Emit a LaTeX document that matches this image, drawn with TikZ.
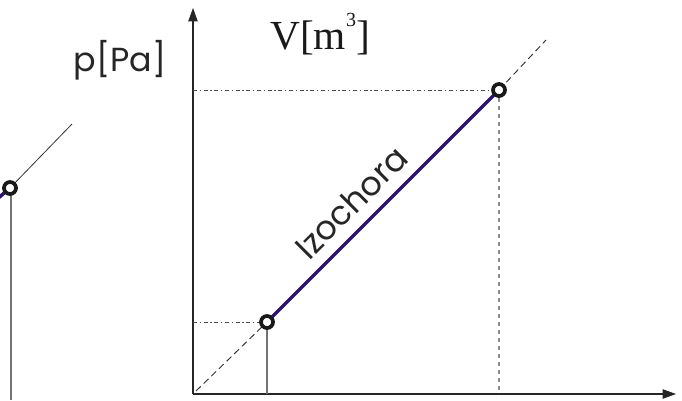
\documentclass[tikz,border=0pt]{standalone}
\usepackage{fontspec}
\setmainfont{Liberation Serif}
\newfontfamily\gothic{Poppins}
\usetikzlibrary{arrows.meta, positioning, calc}
\definecolor{izocol}{HTML}{2E1470}
\tikzset{
  % --- Osie i linie -----------------------------------------
  ax/.style={-{Triangle[length=10pt, width=7pt]}, line width=0.8pt, black!85},
  dotl/.style={line width=0.7pt, black!70, dash pattern=on 3pt off 2pt on 1pt off 2pt},
  dotv/.style={line width=1pt, black!45, dash pattern=on 3pt off 3pt},
  dashl/.style={line width=0.7pt, black!80, dash pattern=on 5pt off 3pt},
  thinl/.style={line width=0.6pt, black!80},
  greyl/.style={line width=0.8pt, black!55},
  izo/.style={line width=2.6pt, izocol},
  % --- Punkty i napisy --------------------------------------
  pt/.style={draw=black!90, circle, line width=2.8pt, fill=white,
    minimum size=9pt, inner sep=0pt},
  gtxt/.style={font=\gothic\fontsize{25}{25}\selectfont, black!85},
  stxt/.style={font=\fontsize{31}{31}\selectfont, black!90}
}
\begin{document}
\begin{tikzpicture}[x=0.75pt, y=-0.75pt]
  \useasboundingbox (0,0) rectangle (682,400);

  % --- Lewy wykres (ucięty) -----------------------------------------
  \node[gtxt] (pL) at (120,60) {p[Pa]};
  \coordinate (Lend) at (72,124);
  \coordinate (Lbot) at (11,400);
  \coordinate (Lizo) at (-4,200);
  \draw[izo] (Lizo) -- (10,188);
  \draw[greyl] (11,192) -- (Lbot);
  \draw[thinl] (10,188) -- (Lend);
  \node[pt] (C) at (10,188) {};

  % --- Osie prawego wykresu -----------------------------------------
  \coordinate (O) at (193,394);
  \coordinate (ytop) at (193,8);
  \coordinate (xend) at (676,394);
  \draw[ax] (O) -- (ytop);
  \draw[ax] (O) -- (xend);
  \node[stxt] (vL) at (320,34) {V[m\raisebox{0.55em}{\fontsize{15}{15}\selectfont 3}]};

  % --- Punkty i linie pomocnicze ------------------------------------
  \coordinate (A) at (267,322);
  \coordinate (B) at (499,90);
  \coordinate (Ay) at (O |- A);
  \coordinate (Ax) at (A |- O);
  \coordinate (By) at (O |- B);
  \coordinate (Bx) at (B |- O);
  \coordinate (D0) at (196,391);
  \coordinate (D1) at (546,40);

  \draw[dotl] (Ay) -- (A);
  \draw[dotl] (By) -- (B);
  \draw[dotv] (B) -- (Bx);
  \draw[greyl] (A) -- (Ax);
  \draw[dashl] (D0) -- (A);
  \draw[dashl] (B) -- (D1);

  % --- Izochora -----------------------------------------------------
  \draw[izo] (A) -- node[gtxt, sloped, above=5pt, pos=0.44] (izl) {Izochora} (B);
  \node[pt] (pA) at (A) {};
  \node[pt] (pB) at (B) {};

\end{tikzpicture}
\end{document}
